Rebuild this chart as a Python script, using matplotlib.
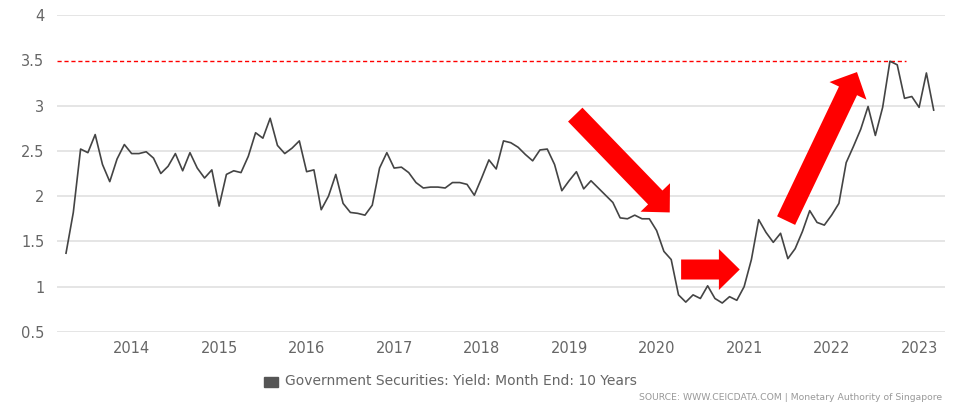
import matplotlib
matplotlib.use('Agg')
import matplotlib.pyplot as plt
from matplotlib.ticker import FuncFormatter
from matplotlib.patches import Rectangle
import numpy as np

# Singapore government securities, 10Y yield, month end (Apr 2013 - Mar 2023)
start_year = 2013.25
yields = [
    1.37, 1.82, 2.52, 2.48, 2.68, 2.35, 2.16, 2.41, 2.57,
    2.47, 2.47, 2.49, 2.42, 2.25, 2.33, 2.47, 2.28, 2.48, 2.31, 2.20, 2.29,
    1.89, 2.24, 2.28, 2.26, 2.44, 2.70, 2.64, 2.86, 2.56, 2.47, 2.53, 2.61,
    2.27, 2.29, 1.85, 2.00, 2.24, 1.92, 1.82, 1.81, 1.79, 1.90, 2.31, 2.48,
    2.31, 2.32, 2.26, 2.15, 2.09, 2.10, 2.10, 2.09, 2.15, 2.15, 2.13, 2.01,
    2.20, 2.40, 2.30, 2.61, 2.59, 2.54, 2.46, 2.39, 2.51, 2.52, 2.35, 2.06,
    2.17, 2.27, 2.08, 2.17, 2.09, 2.01, 1.93, 1.76, 1.75, 1.79, 1.75, 1.75,
    1.62, 1.39, 1.30, 0.91, 0.83, 0.91, 0.87, 1.01, 0.87, 0.82, 0.89, 0.85,
    1.00, 1.30, 1.74, 1.60, 1.49, 1.59, 1.31, 1.42, 1.61, 1.84, 1.71, 1.68,
    1.79, 1.92, 2.37, 2.55, 2.74, 2.99, 2.67, 2.98, 3.49, 3.45, 3.08, 3.10,
    2.98, 3.36, 2.95,
]
years = start_year + np.arange(len(yields)) / 12.0

year_ticks = list(range(2014, 2024))
y_ticks = [0.5, 1, 1.5, 2, 2.5, 3, 3.5, 4]
peak_level = 3.49
peak_line_end = 2022.85

# hand drawn red arrows: (tail x, tail y, tip x, tip y)
arrows = [
    (2019.07, 2.90, 2020.15, 1.82),
    (2020.28, 1.19, 2020.95, 1.19),
    (2021.48, 1.73, 2022.29, 3.37),
]

series_name = 'Government Securities: Yield: Month End: 10 Years'
source_txt = 'SOURCE: WWW.CEICDATA.COM | Monetary Authority of Singapore'

W, H = 966, 408
fig = plt.figure(figsize=(W / 100, H / 100), dpi=100)
ax = fig.add_axes([57 / W, 1 - 332 / H, (945 - 57) / W, (332 - 15) / H])

for v in y_ticks:
    if v != 3.5:
        ax.axhline(v, color='#e3e3e3', lw=1.3, zorder=1)
ax.plot([2013.147, peak_line_end], [peak_level, peak_level], color='red',
        lw=1, linestyle=(0, (3, 2)), zorder=2)

ax.plot(years, yields, color='#444444', lw=1.2, zorder=3)

for x0, y0, x1, y1 in arrows:
    ax.annotate('', xy=(x1, y1), xytext=(x0, y0),
                arrowprops=dict(arrowstyle='simple,head_length=15,head_width=29.5,tail_width=14.4',
                                mutation_scale=1, color='red', lw=0,
                                shrinkA=0, shrinkB=0),
                zorder=4)

ax.set_xlim(2013.147, 2023.296)
ax.set_ylim(0.5, 4)
ax.set_xticks(year_ticks)
ax.set_yticks(y_ticks)
ax.yaxis.set_major_formatter(FuncFormatter(lambda v, p: '%g' % v))
for s in ax.spines.values():
    s.set_visible(False)
ax.tick_params(axis='y', length=0, pad=9, labelsize=10.5, labelcolor='#666666')
ax.tick_params(axis='x', length=0, pad=6.5, labelsize=10.5, labelcolor='#666666')

# legend and source line
fig.patches.append(Rectangle((264 / W, 1 - 387 / H), 14 / W, 10 / H,
                             transform=fig.transFigure, color='#555555'))
fig.text(285 / W, 1 - 381 / H, series_name, fontsize=10, color='#666666',
         va='center', ha='left')
fig.text(942 / W, 1 - 397.5 / H, source_txt, fontsize=6.65, color='#999999',
         va='center', ha='right')

fig.savefig('out.png', dpi=100)
